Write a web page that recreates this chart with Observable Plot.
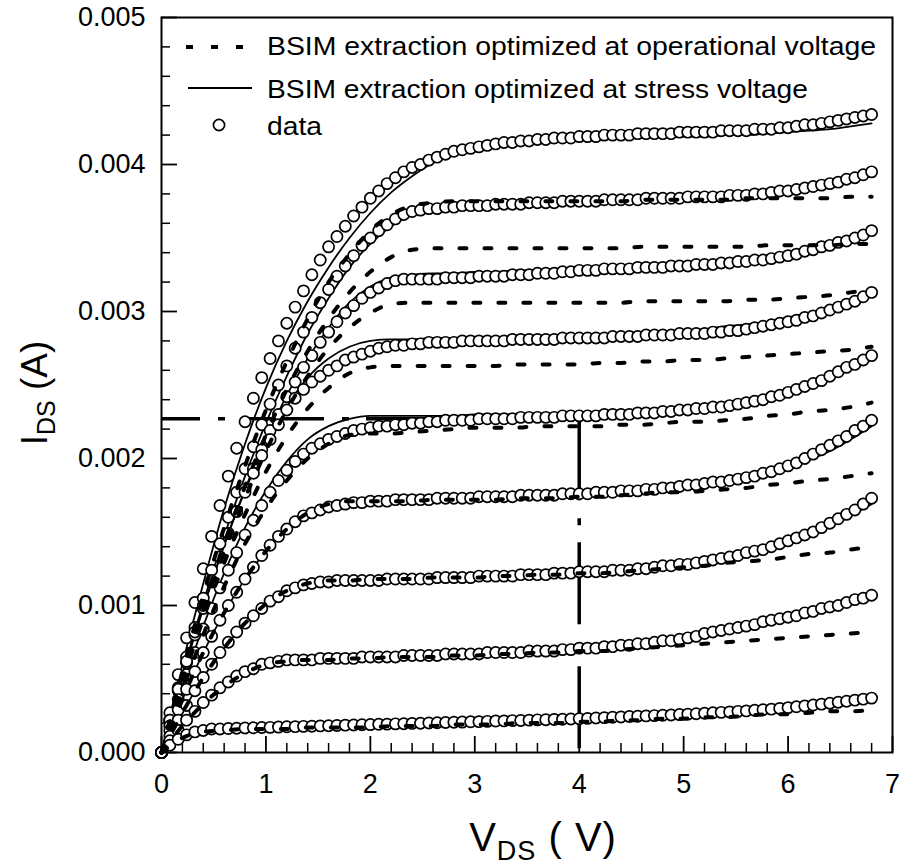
<!DOCTYPE html>
<html><head><meta charset="utf-8">
<script src="https://cdn.jsdelivr.net/npm/d3@7"></script>
<script src="https://cdn.jsdelivr.net/npm/@observablehq/plot@0.6"></script>
<style>body{margin:0;background:#fff} svg{display:block}</style>
</head><body><div id="chart"></div>
<script>
// ---- data (currents in mA) ----
const vdsData = [0,0.08,0.16,0.24,0.32,0.40,0.48,0.56,0.64,0.72,0.80,0.88,0.96,1.04,1.12,1.20,1.28,1.36,1.44,1.52,1.60,1.68,1.76,1.84,1.92,2.00,2.08,2.16,2.24,2.32,2.40,2.48,2.56,2.64,2.72,2.80,2.88,2.96,3.04,3.12,3.20,3.28,3.36,3.44,3.52,3.60,3.68,3.76,3.84,3.92,4.00,4.08,4.16,4.24,4.32,4.40,4.48,4.56,4.64,4.72,4.80,4.88,4.96,5.04,5.12,5.20,5.28,5.36,5.44,5.52,5.60,5.68,5.76,5.84,5.92,6.00,6.08,6.16,6.24,6.32,6.40,6.48,6.56,6.64,6.72,6.80];
const idData1 = [0,.27,.53,.78,1.02,1.25,1.47,1.68,1.88,2.07,2.25,2.41,2.55,2.68,2.80,2.92,3.03,3.14,3.25,3.35,3.44,3.51,3.58,3.65,3.71,3.77,3.82,3.87,3.91,3.95,3.98,4.00,4.03,4.05,4.07,4.09,4.10,4.11,4.12,4.13,4.14,4.15,4.15,4.16,4.16,4.17,4.17,4.18,4.18,4.18,4.19,4.19,4.19,4.20,4.20,4.20,4.20,4.21,4.21,4.21,4.21,4.21,4.22,4.22,4.22,4.22,4.22,4.23,4.23,4.23,4.23,4.24,4.24,4.24,4.25,4.25,4.26,4.27,4.27,4.28,4.29,4.30,4.31,4.32,4.33,4.34];
const idData2 = [0,.22,.44,.65,.85,1.05,1.24,1.42,1.60,1.77,1.93,2.08,2.23,2.37,2.50,2.63,2.75,2.86,2.96,3.06,3.15,3.24,3.31,3.38,3.45,3.50,3.55,3.59,3.63,3.66,3.68,3.69,3.70,3.70,3.71,3.71,3.72,3.72,3.72,3.72,3.73,3.73,3.73,3.73,3.74,3.74,3.74,3.74,3.75,3.75,3.75,3.75,3.75,3.76,3.76,3.76,3.76,3.76,3.77,3.77,3.77,3.77,3.77,3.78,3.78,3.78,3.78,3.78,3.79,3.79,3.79,3.80,3.80,3.81,3.82,3.82,3.83,3.84,3.85,3.86,3.87,3.88,3.90,3.91,3.93,3.95];
const idData3 = [0,.21,.42,.61,.80,.98,1.16,1.33,1.49,1.64,1.79,1.93,2.06,2.19,2.30,2.42,2.52,2.62,2.70,2.79,2.86,2.93,2.99,3.04,3.09,3.13,3.16,3.19,3.21,3.22,3.22,3.22,3.22,3.22,3.23,3.23,3.23,3.23,3.24,3.24,3.24,3.24,3.25,3.25,3.25,3.26,3.26,3.26,3.27,3.27,3.28,3.28,3.28,3.29,3.29,3.29,3.29,3.30,3.30,3.30,3.30,3.31,3.31,3.31,3.32,3.32,3.32,3.33,3.33,3.34,3.34,3.35,3.35,3.36,3.37,3.38,3.39,3.41,3.42,3.44,3.45,3.47,3.48,3.50,3.52,3.55];
const idData4 = [0,.22,.43,.62,.82,1.00,1.17,1.33,1.49,1.64,1.77,1.90,2.02,2.13,2.23,2.33,2.41,2.47,2.52,2.56,2.60,2.63,2.67,2.69,2.71,2.73,2.75,2.76,2.77,2.77,2.78,2.78,2.79,2.79,2.79,2.79,2.80,2.80,2.80,2.80,2.80,2.80,2.81,2.81,2.81,2.81,2.81,2.81,2.82,2.82,2.82,2.82,2.82,2.82,2.83,2.83,2.83,2.83,2.84,2.84,2.84,2.84,2.85,2.85,2.85,2.85,2.86,2.86,2.87,2.87,2.88,2.89,2.90,2.91,2.92,2.93,2.94,2.96,2.97,2.99,3.01,3.03,3.05,3.07,3.10,3.13];
const idData5 = [0,.18,.36,.53,.68,.84,.98,1.12,1.24,1.36,1.48,1.58,1.68,1.77,1.85,1.92,1.98,2.03,2.07,2.10,2.13,2.15,2.17,2.19,2.20,2.21,2.22,2.22,2.23,2.23,2.24,2.24,2.25,2.25,2.26,2.26,2.26,2.26,2.27,2.27,2.27,2.27,2.27,2.28,2.28,2.28,2.28,2.28,2.29,2.29,2.29,2.29,2.29,2.30,2.30,2.30,2.30,2.31,2.31,2.31,2.32,2.32,2.33,2.33,2.34,2.34,2.35,2.35,2.36,2.37,2.38,2.39,2.40,2.42,2.43,2.45,2.47,2.49,2.51,2.53,2.56,2.59,2.62,2.64,2.67,2.70];
const idData6 = [0,.15,.29,.43,.55,.68,.79,.90,1.00,1.09,1.18,1.26,1.34,1.41,1.47,1.52,1.57,1.61,1.63,1.65,1.67,1.68,1.69,1.70,1.70,1.71,1.71,1.71,1.72,1.72,1.72,1.72,1.72,1.73,1.73,1.73,1.73,1.73,1.74,1.74,1.74,1.74,1.74,1.75,1.75,1.75,1.75,1.75,1.76,1.76,1.76,1.76,1.77,1.77,1.77,1.78,1.78,1.78,1.79,1.79,1.80,1.80,1.81,1.82,1.82,1.83,1.84,1.84,1.85,1.86,1.87,1.88,1.90,1.91,1.93,1.95,1.97,2.00,2.03,2.06,2.09,2.12,2.15,2.19,2.22,2.26];
const idData7 = [0,.11,.22,.32,.42,.51,.60,.68,.75,.82,.88,.93,.98,1.03,1.06,1.10,1.12,1.14,1.15,1.16,1.16,1.17,1.17,1.17,1.17,1.17,1.17,1.18,1.18,1.18,1.18,1.18,1.18,1.19,1.19,1.19,1.19,1.19,1.20,1.20,1.20,1.20,1.20,1.21,1.21,1.21,1.21,1.22,1.22,1.22,1.23,1.23,1.23,1.23,1.24,1.24,1.24,1.25,1.25,1.26,1.27,1.27,1.28,1.28,1.29,1.30,1.31,1.32,1.33,1.34,1.36,1.37,1.38,1.40,1.42,1.44,1.46,1.48,1.50,1.53,1.56,1.59,1.62,1.65,1.69,1.73];
const idData8 = [0,.08,.15,.22,.28,.34,.39,.44,.48,.52,.55,.57,.60,.61,.62,.63,.63,.63,.63,.64,.64,.64,.64,.64,.65,.65,.65,.65,.65,.66,.66,.66,.66,.66,.67,.67,.67,.67,.67,.68,.68,.68,.68,.68,.69,.69,.69,.69,.70,.70,.71,.71,.71,.72,.72,.73,.73,.74,.74,.75,.76,.76,.77,.78,.79,.81,.82,.83,.84,.85,.86,.87,.89,.90,.91,.92,.93,.95,.96,.98,.99,1.00,1.02,1.04,1.05,1.07];
const idData9 = [0,.05,.09,.12,.14,.15,.16,.16,.163,.165,.167,.168,.170,.171,.173,.175,.176,.178,.179,.181,.182,.184,.186,.187,.189,.190,.192,.193,.195,.196,.198,.199,.201,.202,.204,.206,.207,.209,.210,.212,.214,.215,.217,.218,.220,.222,.223,.225,.226,.228,.230,.232,.235,.237,.240,.242,.245,.247,.249,.251,.253,.255,.258,.261,.264,.267,.270,.273,.276,.280,.283,.287,.291,.295,.300,.305,.311,.317,.323,.329,.335,.342,.349,.356,.363,.370];

const vdsModel = [0,0.2,0.4,0.6,0.8,1.0,1.2,1.4,1.6,1.8,2.0,2.2,2.4,2.6,2.8,3.0,3.2,3.4,3.6,3.8,4.0,4.2,4.4,4.6,4.8,5.0,5.2,5.4,5.6,5.8,6.0,6.2,6.4,6.6,6.8];
// BSIM extraction optimized at stress voltage (solid)
const idStress1 = [0,.60,1.15,1.66,2.10,2.48,2.80,3.07,3.30,3.50,3.67,3.81,3.92,4.01,4.07,4.11,4.13,4.15,4.16,4.17,4.17,4.18,4.18,4.18,4.19,4.19,4.19,4.20,4.20,4.21,4.22,4.23,4.24,4.26,4.28];
const idStress2 = [0,.53,1.02,1.47,1.88,2.24,2.56,2.85,3.09,3.30,3.46,3.58,3.66,3.71,3.73,3.74,3.74,3.75,3.75,3.75,3.76,3.76,3.76,3.77,3.77,3.78,3.78,3.79,3.80,3.81,3.82,3.84,3.86,3.89,3.93];
const idStress3 = [0,.52,.98,1.41,1.79,2.13,2.43,2.68,2.89,3.06,3.17,3.23,3.25,3.26,3.26,3.27,3.27,3.28,3.28,3.29,3.29,3.30,3.30,3.31,3.32,3.33,3.34,3.35,3.36,3.38,3.40,3.42,3.45,3.49,3.54];
const idStress4 = [0,.52,.99,1.41,1.78,2.09,2.35,2.55,2.68,2.76,2.80,2.81,2.81,2.82,2.82,2.82,2.82,2.83,2.83,2.83,2.84,2.84,2.85,2.86,2.86,2.87,2.88,2.90,2.91,2.93,2.96,2.99,3.02,3.06,3.11];
const idStress5 = [0,.45,.86,1.22,1.53,1.78,1.98,2.13,2.22,2.27,2.29,2.29,2.29,2.29,2.29,2.30,2.30,2.30,2.30,2.31,2.31,2.32,2.32,2.33,2.34,2.35,2.36,2.38,2.40,2.43,2.46,2.50,2.55,2.61,2.68];
const idStress6 = [0,.36,.68,.95,1.18,1.37,1.52,1.63,1.69,1.72,1.73,1.73,1.73,1.74,1.74,1.74,1.75,1.75,1.75,1.76,1.76,1.77,1.78,1.79,1.80,1.81,1.83,1.85,1.87,1.90,1.94,1.99,2.05,2.13,2.22];
const idStress7 = [0,.27,.51,.71,.88,1.00,1.09,1.14,1.16,1.17,1.17,1.18,1.18,1.18,1.19,1.19,1.20,1.20,1.21,1.22,1.22,1.23,1.24,1.25,1.27,1.28,1.30,1.33,1.36,1.39,1.43,1.48,1.54,1.61,1.69];
const idStress8 = [0,.18,.33,.46,.55,.60,.62,.63,.64,.64,.65,.65,.66,.66,.67,.67,.68,.68,.69,.70,.70,.71,.72,.74,.75,.77,.79,.82,.84,.87,.90,.93,.97,1.01,1.05];
const idStress9 = [0,.10,.14,.15,.16,.16,.16,.17,.17,.17,.18,.18,.18,.19,.19,.20,.20,.20,.21,.21,.22,.22,.23,.23,.24,.25,.26,.27,.28,.29,.30,.31,.33,.34,.36];
// BSIM extraction optimized at operational voltage (dashed)
const idOper1 = [0,.55,1.07,1.53,1.95,2.33,2.66,2.95,3.20,3.39,3.55,3.66,3.72,3.74,3.75,3.75,3.75,3.75,3.75,3.75,3.75,3.75,3.75,3.76,3.76,3.76,3.76,3.76,3.77,3.77,3.77,3.77,3.77,3.78,3.78];
const idOper2 = [0,.52,.99,1.42,1.81,2.16,2.47,2.73,2.95,3.13,3.27,3.37,3.42,3.43,3.43,3.43,3.43,3.43,3.43,3.43,3.43,3.43,3.43,3.44,3.44,3.44,3.44,3.44,3.44,3.45,3.45,3.45,3.45,3.46,3.46];
const idOper3 = [0,.50,.95,1.36,1.73,2.05,2.33,2.56,2.75,2.89,2.99,3.05,3.06,3.06,3.06,3.06,3.06,3.06,3.06,3.06,3.06,3.06,3.06,3.07,3.07,3.07,3.07,3.07,3.08,3.08,3.09,3.10,3.11,3.13,3.15];
const idOper4 = [0,.48,.91,1.29,1.62,1.91,2.15,2.34,2.48,2.58,2.62,2.63,2.63,2.63,2.63,2.63,2.63,2.64,2.64,2.64,2.64,2.65,2.65,2.66,2.66,2.67,2.67,2.68,2.69,2.70,2.71,2.72,2.73,2.74,2.76];
const idOper5 = [0,.42,.80,1.13,1.42,1.66,1.85,2.00,2.10,2.16,2.17,2.17,2.18,2.19,2.20,2.21,2.21,2.21,2.22,2.22,2.22,2.22,2.23,2.23,2.24,2.25,2.25,2.26,2.27,2.29,2.30,2.32,2.33,2.35,2.38];
const idOper6 = [0,.36,.68,.95,1.18,1.37,1.52,1.63,1.69,1.71,1.71,1.71,1.71,1.72,1.72,1.72,1.72,1.73,1.73,1.73,1.74,1.74,1.75,1.76,1.77,1.77,1.78,1.79,1.80,1.82,1.83,1.85,1.86,1.88,1.90];
const idOper7 = [0,.27,.51,.71,.88,1.01,1.10,1.15,1.17,1.17,1.18,1.18,1.18,1.19,1.19,1.19,1.20,1.20,1.21,1.21,1.22,1.22,1.23,1.24,1.25,1.26,1.27,1.29,1.30,1.31,1.33,1.35,1.36,1.38,1.40];
const idOper8 = [0,.18,.33,.45,.54,.60,.62,.63,.63,.64,.64,.65,.65,.65,.66,.66,.67,.67,.68,.68,.69,.69,.70,.71,.72,.73,.74,.75,.76,.77,.78,.79,.80,.81,.82];
const idOper9 = [0,.10,.14,.15,.16,.16,.16,.17,.17,.17,.17,.18,.18,.18,.19,.19,.19,.20,.20,.20,.21,.21,.22,.22,.23,.23,.24,.24,.25,.26,.26,.27,.28,.28,.29];

// axis ticks
const xTicks = [0,1,2,3,4,5,6,7];
const xMinor = [0.2,0.4,0.6,0.8,1.2,1.4,1.6,1.8,2.2,2.4,2.6,2.8,3.2,3.4,3.6,3.8,4.2,4.4,4.6,4.8,5.2,5.4,5.6,5.8,6.2,6.4,6.6,6.8];
const yTicks = [0,0.001,0.002,0.003,0.004,0.005];
const yMinor = [0.0002,0.0004,0.0006,0.0008,0.0012,0.0014,0.0016,0.0018,0.0022,0.0024,0.0026,0.0028,0.0032,0.0034,0.0036,0.0038,0.0042,0.0044,0.0046,0.0048];
// annotation (stress point)
const annoV = 4;
const annoI = 0.00227;

const legendLabels = ["BSIM extraction optimized at operational voltage","BSIM extraction optimized at stress voltage","data"];

// ---- build ----
const W = 903, H = 868, ML = 161, MR = 11, MT = 17, MB = 116;
const plotW = W - ML - MR, plotH = H - MT - MB;
const toPts = (xs, series) => series.flatMap((arr, k) =>
  xs.map((v, j) => ({v, i: arr[j] / 1000, k})).filter(d => Number.isFinite(d.i)));
const points = toPts(vdsData, [idData1,idData2,idData3,idData4,idData5,idData6,idData7,idData8,idData9]);
const stressPts = toPts(vdsModel, [idStress1,idStress2,idStress3,idStress4,idStress5,idStress6,idStress7,idStress8,idStress9]);
const operPts = toPts(vdsModel, [idOper1,idOper2,idOper3,idOper4,idOper5,idOper6,idOper7,idOper8,idOper9]);

const FONT = "Arial, 'Liberation Sans', Helvetica, sans-serif";
const annoStyle = {stroke: "#000", strokeWidth: 3.5, strokeDasharray: "82,18,7,17"};

const chart = Plot.plot({
  width: W, height: H,
  marginLeft: ML, marginRight: MR, marginTop: MT, marginBottom: MB,
  x: {domain: [0, 7]},
  y: {domain: [0, 0.005]},
  style: {fontFamily: FONT, fontSize: "27px", color: "#000", background: "#fff", overflow: "visible"},
  marks: [
    Plot.tickX(xMinor, {x: d => d, insetTop: plotH - 9, stroke: "#000", strokeWidth: 1.5}),
    Plot.tickX(xTicks, {x: d => d, insetTop: plotH - 16, stroke: "#000", strokeWidth: 1.8}),
    Plot.tickY(yMinor, {y: d => d, insetRight: plotW - 9, stroke: "#000", strokeWidth: 1.5}),
    Plot.tickY(yTicks, {y: d => d, insetRight: plotW - 16, stroke: "#000", strokeWidth: 1.8}),
    Plot.axisX({ticks: xTicks, tickSize: 0, tickPadding: 21, tickFormat: d => String(d), label: null}),
    Plot.axisY({ticks: yTicks, tickSize: 0, tickPadding: 16, tickFormat: d => d.toFixed(3), label: null}),
    Plot.ruleY([annoI], {y: d => d, x1: () => 0, x2: () => annoV, ...annoStyle, strokeDashoffset: 43}),
    Plot.ruleX([annoV], {x: d => d, y1: () => annoI, y2: () => 0, ...annoStyle}),
    Plot.line(stressPts, {x: "v", y: "i", z: "k", curve: "monotone-x", stroke: "#000", strokeWidth: 1.8}),
    Plot.dot(points, {x: "v", y: "i", r: 5.6, fill: "#fff", stroke: "#000", strokeWidth: 1.7}),
    Plot.line(operPts, {x: "v", y: "i", z: "k", curve: "monotone-x", stroke: "#000", strokeWidth: 4, strokeDasharray: "7,18"}),
    Plot.frame({stroke: "#000", strokeWidth: 2})
  ]
});
document.getElementById("chart").appendChild(chart);

// ---- legend & axis titles ----
const svg = d3.select(chart);
const lg = svg.append("g").attr("font-family", FONT).attr("fill", "#000").attr("text-anchor", "start");
lg.append("line").attr("x1", 186).attr("x2", 243).attr("y1", 47).attr("y2", 47)
  .attr("stroke", "#000").attr("stroke-width", 4).attr("stroke-dasharray", "7,18");
lg.append("line").attr("x1", 188).attr("x2", 252).attr("y1", 88).attr("y2", 88)
  .attr("stroke", "#000").attr("stroke-width", 1.8);
lg.append("circle").attr("cx", 219).attr("cy", 125).attr("r", 5.6)
  .attr("fill", "#fff").attr("stroke", "#000").attr("stroke-width", 1.7);
const legendW = [609, 541, 55];
const legendY = [55, 98, 135];
legendLabels.forEach((t, i) => {
  lg.append("text").attr("x", 267).attr("y", legendY[i]).attr("font-size", 25)
    .attr("text-anchor", "start")
    .attr("textLength", legendW[i]).attr("lengthAdjust", "spacingAndGlyphs").text(t);
});

const yt = svg.append("text").attr("transform", "translate(47,393) rotate(-90)")
  .attr("text-anchor", "middle").attr("font-family", FONT).attr("font-size", 37).attr("fill", "#000");
yt.append("tspan").text("I");
yt.append("tspan").attr("font-size", 25).attr("dy", 8).text("DS");
yt.append("tspan").attr("dy", -8).text(" (A)");

const xt = svg.append("text").attr("x", 543).attr("y", 851)
  .attr("text-anchor", "middle").attr("font-family", FONT).attr("font-size", 40)
  .attr("letter-spacing", 1).attr("fill", "#000");
xt.append("tspan").text("V");
xt.append("tspan").attr("font-size", 27).attr("dy", 9).text("DS");
xt.append("tspan").attr("dy", -9).text(" ( V)");
</script>
</body></html>
